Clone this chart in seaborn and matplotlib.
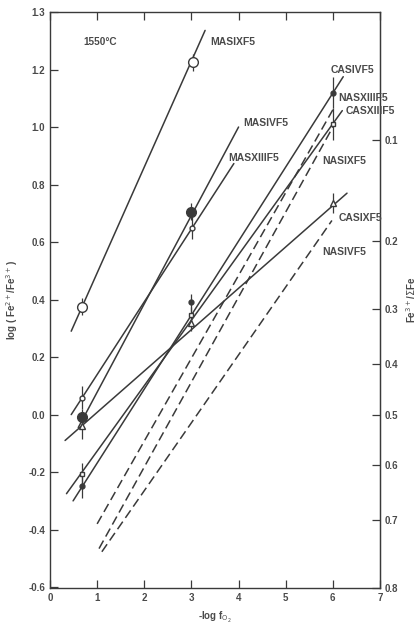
import numpy as np
import pandas as pd
import matplotlib as mpl
mpl.use('Agg')
import matplotlib.pyplot as plt
import seaborn as sns

# fitted lines: name, x ends, y ends, style
line_names = ['MASIXF5', 'MASIVF5', 'MASXIIIF5', 'CASIVF5', 'CASXIIIF5', 'CASIXF5',
              'NASXIIIF5', 'NASIXF5', 'NASIVF5']
line_x = [[0.45, 3.29], [0.6, 4.0], [0.45, 3.9], [0.49, 6.22], [0.35, 6.2], [0.32, 6.3],
          [1.0, 6.0], [1.04, 6.0], [1.1, 5.98]]
line_y = [[0.29, 1.336], [-0.045, 1.0], [0.0, 0.873], [-0.30, 1.175], [-0.275, 1.057], [-0.09, 0.77],
          [-0.38, 1.06], [-0.466, 1.0], [-0.477, 0.675]]
line_kind = ['solid'] * 6 + ['dashed'] * 3

# measured points (x = -log fO2)
pt_x = {
    'MASIXF5': [0.68, 3.03],
    'MASIVF5': [0.68, 3.0],
    'MASXIIIF5': [0.68, 3.02],
    'CASIVF5': [0.68, 3.0, 6.0],
    'CASXIIIF5': [0.68, 3.0, 6.0],
    'CASIXF5': [0.68, 3.0, 6.0],
}
pt_y = {
    'MASIXF5': [0.375, 1.225],
    'MASIVF5': [-0.01, 0.705],
    'MASXIIIF5': [0.058, 0.65],
    'CASIVF5': [-0.25, 0.39, 1.12],
    'CASXIIIF5': [-0.205, 0.345, 1.01],
    'CASIXF5': [-0.04, 0.32, 0.735],
}
pt_err = {
    'MASIXF5': [0.03, 0.03],
    'MASIVF5': [0.03, 0.03],
    'MASXIIIF5': [0.04, 0.04],
    'CASIVF5': [0.04, 0.03, 0.055],
    'CASXIIIF5': [0.035, 0.03, 0.055],
    'CASIXF5': [0.045, 0.03, 0.035],
}
pt_marker = {'MASIXF5': ('o', 7, False), 'MASIVF5': ('o', 7, True), 'MASXIIIF5': ('o', 3.5, False),
             'CASIVF5': ('o', 3.5, True), 'CASXIIIF5': ('s', 3.5, False), 'CASIXF5': ('^', 3.8, False)}

# label positions
lab_names = ['MASIXF5', 'CASIVF5', 'NASXIIIF5', 'CASXIIIF5', 'MASIVF5', 'MASXIIIF5', 'NASIXF5', 'CASIXF5', 'NASIVF5']
lab_x = [3.4, 5.95, 6.12, 6.28, 4.1, 3.78, 5.78, 6.12, 5.78]
lab_y = [1.297, 1.2, 1.10, 1.055, 1.015, 0.894, 0.883, 0.685, 0.567]

left_ticks = [-0.6, -0.4, -0.2, 0.0, 0.2, 0.4, 0.6, 0.8, 1.0, 1.2, 1.4]
left_labels = ['-0.6', '-0.4', '-0.2', '0.0', '0.2', '0.4', '0.6', '0.8', '1.0', '1.2', '1.3']
right_ticks = [0.1, 0.2, 0.3, 0.4, 0.5, 0.6, 0.7, 0.8]

sns.set_style('ticks')
plt.rcParams['font.family'] = ['Liberation Sans', 'DejaVu Sans']
ink = '#3a3a3a'
txt = '#4a4a4a'

fig = plt.figure(figsize=(4.18, 6.25), dpi=100)
ax = fig.add_axes([0.1196, 0.0592, 0.7895, 0.9216])

rows = []
for n, xs, ys, k in zip(line_names, line_x, line_y, line_kind):
    for xv, yv in zip(xs, ys):
        rows.append({'name': n, 'x': xv, 'y': yv, 'kind': k})
df = pd.DataFrame(rows)
sns.lineplot(data=df, x='x', y='y', units='name', estimator=None, style='kind',
             dashes={'solid': '', 'dashed': (6, 3)}, color=ink, lw=1.1, legend=False, ax=ax)

for n in pt_x:
    m, ms, filled = pt_marker[n]
    ax.errorbar(pt_x[n], pt_y[n], yerr=pt_err[n], fmt=m, ms=ms, color=ink, ecolor=ink,
                elinewidth=0.9, capsize=0, mfc=ink if filled else 'white', mec=ink, mew=1.0, zorder=5)

for n, xv, yv in zip(lab_names, lab_x, lab_y):
    ax.text(xv, yv, n, fontsize=7.5, fontweight='bold', color=txt, va='center', ha='left', clip_on=False)
ax.text(0.7, 1.297, '1550°C', fontsize=7.2, fontweight='bold', color=txt, va='center', ha='left')

ax.set_xlim(0, 7)
ax.set_ylim(-0.603, 1.4)
ax.set_xticks(range(0, 8))
ax.set_yticks(left_ticks)
ax.set_yticklabels(left_labels)
ax.tick_params(direction='in', length=6, width=0.9, color=ink, labelsize=7, labelcolor=txt, top=True)
ax.tick_params(axis='x', top=True, labeltop=False)
for lbl in ax.get_xticklabels() + ax.get_yticklabels():
    lbl.set_fontweight('bold')
for s in ax.spines.values():
    s.set_color(ink)
    s.set_linewidth(1.0)

def to_frac(y):
    return 1.0 / (1.0 + 10.0 ** np.asarray(y, dtype=float))

def from_frac(r):
    r = np.clip(np.asarray(r, dtype=float), 1e-6, 1 - 1e-6)
    return np.log10((1 - r) / r)

sec = ax.secondary_yaxis('right', functions=(to_frac, from_frac))
sec.set_yticks(right_ticks)
sec.set_yticklabels(['%.1f' % v for v in right_ticks])
sec.tick_params(direction='in', length=6, width=0.9, color=ink, labelsize=7, labelcolor=txt)
for lbl in sec.get_yticklabels():
    lbl.set_fontweight('bold')
sec.spines['right'].set_color(ink)

ax.set_xlabel('-log f$_{\\mathrm{O}_2}$', fontsize=7, fontweight='bold', color=txt, labelpad=5)
ax.set_ylabel('log ( Fe$^{2+}$/Fe$^{3+}$)', fontsize=7, fontweight='bold', color=txt, labelpad=6)
fig.text(0.999, 0.52, 'Fe$^{3+}$/$\\Sigma$Fe', rotation=90, fontsize=7, color=txt,
         fontweight='bold', ha='right', va='center')

fig.savefig('out.png', dpi=100)
